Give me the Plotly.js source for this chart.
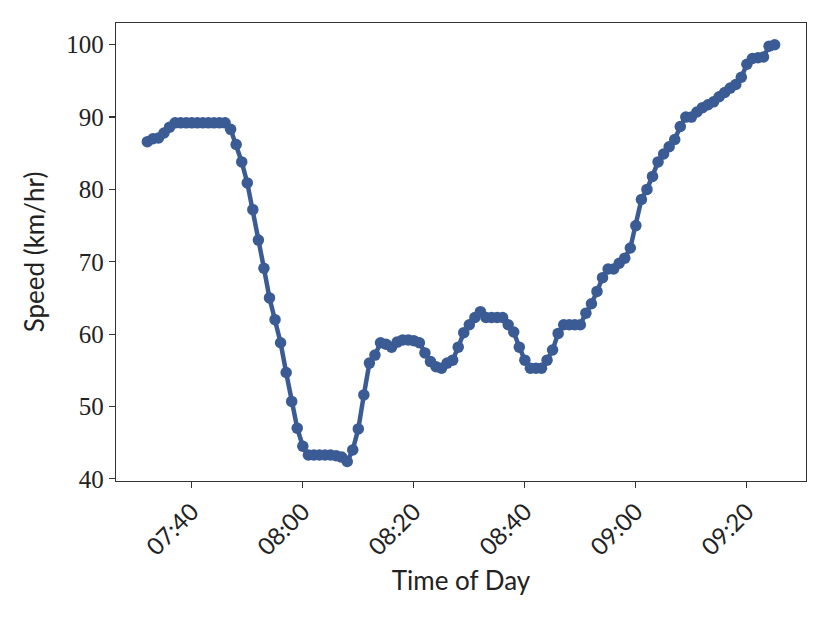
<!DOCTYPE html>
<html>
<head>
<meta charset="utf-8">
<script src="https://cdn.plot.ly/plotly-3.0.1.min.js"></script>
<style>html,body{margin:0;padding:0;background:#fff;}#chart{width:830px;height:623px;}</style>
</head>
<body>
<div id="chart"></div>
<script>
const day = "2020-01-01 ";
const times = [
"07:32","07:33","07:34","07:35","07:36","07:37","07:38","07:39","07:40","07:41",
"07:42","07:43","07:44","07:45","07:46","07:47","07:48","07:49","07:50","07:51",
"07:52","07:53","07:54","07:55","07:56","07:57","07:58","07:59","08:00","08:01",
"08:02","08:03","08:04","08:05","08:06","08:07","08:08","08:09","08:10","08:11",
"08:12","08:13","08:14","08:15","08:16","08:17","08:18","08:19","08:20","08:21",
"08:22","08:23","08:24","08:25","08:26","08:27","08:28","08:29","08:30","08:31",
"08:32","08:33","08:34","08:35","08:36","08:37","08:38","08:39","08:40","08:41",
"08:42","08:43","08:44","08:45","08:46","08:47","08:48","08:49","08:50","08:51",
"08:52","08:53","08:54","08:55","08:56","08:57","08:58","08:59","09:00","09:01",
"09:02","09:03","09:04","09:05","09:06","09:07","09:08","09:09","09:10","09:11",
"09:12","09:13","09:14","09:15","09:16","09:17","09:18","09:19","09:20","09:21",
"09:22","09:23","09:24","09:25"];
const speeds = [
86.6,87.0,87.1,87.8,88.6,89.2,89.2,89.2,89.2,89.2,
89.2,89.2,89.2,89.2,89.2,88.3,86.2,83.8,80.9,77.2,
73.0,69.1,65.0,62.0,58.8,54.7,50.7,47.0,44.5,43.3,
43.3,43.3,43.3,43.3,43.2,43.0,42.4,44.0,46.9,51.6,
56.0,57.1,58.8,58.6,58.2,58.9,59.2,59.2,59.1,58.8,
57.4,56.2,55.5,55.3,56.0,56.4,58.2,60.2,61.3,62.3,
63.1,62.3,62.3,62.3,62.3,61.3,60.3,58.2,56.4,55.3,
55.3,55.3,56.4,57.8,60.1,61.3,61.3,61.3,61.3,62.9,
64.2,65.9,67.8,69.0,69.0,69.8,70.5,71.9,75.0,78.6,
80.0,81.8,83.8,84.9,85.9,86.9,88.7,90.0,90.0,90.7,
91.3,91.7,92.1,92.8,93.4,94.0,94.5,95.5,97.3,98.1,
98.2,98.3,99.8,100.0];
const yTicks = [40,50,60,70,80,90,100];
const xTickStart = "07:40";
const xRange = ["07:26:21","09:30:39"];
const yRange = [39.7, 103.0];

const color = "#3b5b95";
const axisColor = "#333333";
const trace = {
  x: times.map(t => day + t),
  y: speeds,
  type: "scatter",
  mode: "lines+markers",
  line: {color: color, width: 4.5},
  marker: {color: color, size: 11.5},
  hoverinfo: "x+y"
};
const layout = {
  width: 830, height: 623,
  margin: {l: 116, r: 24, t: 23, b: 142},
  paper_bgcolor: "#fff", plot_bgcolor: "#fff",
  showlegend: false,
  xaxis: {
    type: "date",
    range: xRange.map(t => day + t),
    tick0: day + xTickStart,
    dtick: 20 * 60 * 1000,
    tickformat: "%H:%M",
    tickangle: -45,
    ticks: "outside", ticklen: 6, tickwidth: 1.2, tickcolor: axisColor,
    showline: true, linecolor: axisColor, linewidth: 1.2, mirror: true,
    showgrid: false, zeroline: false,
    tickfont: {family: "Lato, 'DejaVu Sans', sans-serif", size: 24, color: "#222"},
    title: {text: "Time of Day", font: {family: "Lato, 'DejaVu Sans', sans-serif", size: 26, color: "#222"}, standoff: 12}
  },
  yaxis: {
    range: yRange,
    tickvals: yTicks,
    ticktext: yTicks.map(String),
    ticks: "outside", ticklen: 6, tickwidth: 1.2, tickcolor: axisColor,
    showline: true, linecolor: axisColor, linewidth: 1.2, mirror: true,
    showgrid: false, zeroline: false,
    tickfont: {family: "'Liberation Serif', 'DejaVu Serif', serif", size: 25, color: "#222"},
    title: {text: "Speed (km/hr)", font: {family: "Lato, 'DejaVu Sans', sans-serif", size: 26, color: "#222"}, standoff: 14}
  }
};
Plotly.newPlot("chart", [trace], layout, {displayModeBar: false, staticPlot: true});
</script>
</body>
</html>
